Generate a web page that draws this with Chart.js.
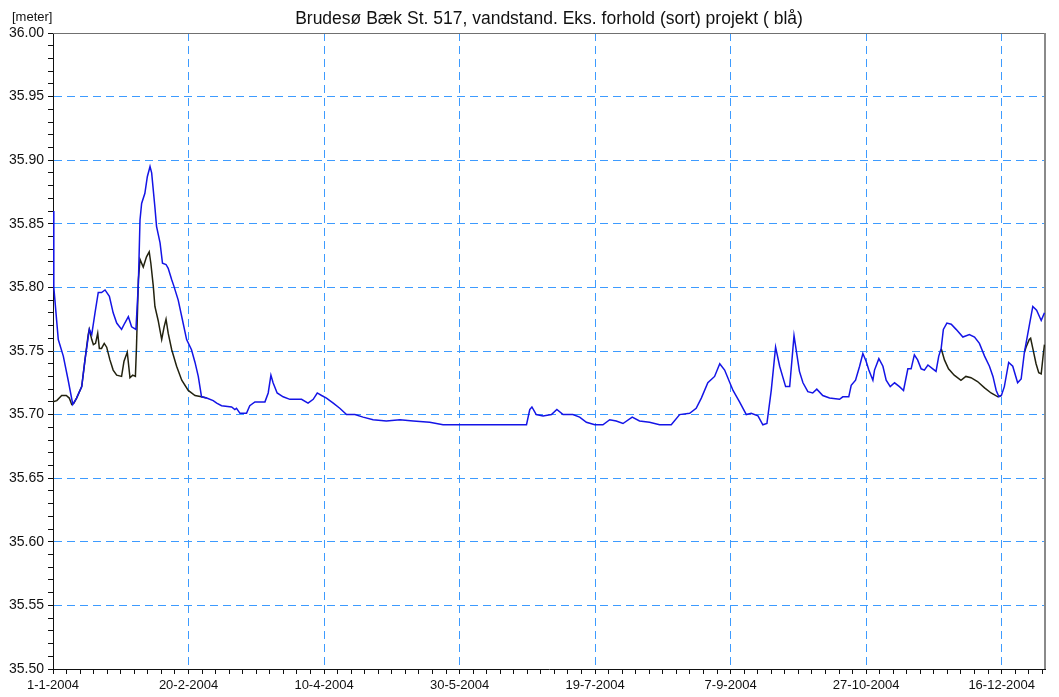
<!DOCTYPE html>
<html>
<head>
<meta charset="utf-8">
<script src="https://cdn.jsdelivr.net/npm/chart.js@4/dist/chart.umd.min.js"></script>
<style>
  body { margin: 0; background: #fff; }
  canvas { display: block; }
</style>
</head>
<body>
<canvas id="levelChart" width="1059" height="697"></canvas>
<script>
// --- data (day of year 2004, water level in meter) ---
const chartTitle = 'Brudesø Bæk St. 517, vandstand. Eks. forhold (sort) projekt ( blå)';
const unitLabel = '[meter]';

const tickDays = [0, 50, 100, 150, 200, 250, 300, 350];
const tickLabels = ['1-1-2004', '20-2-2004', '10-4-2004', '30-5-2004', '19-7-2004', '7-9-2004', '27-10-2004', '16-12-2004'];

// projekt (blå)
const projectDays = [
    0, 0.3, 1.95, 3.8, 5.6, 7.3, 8.7, 10.6, 11.8, 13.4, 14.3, 15.5, 16.7, 17.9, 19.2, 20.8, 22.2, 23.5, 25.3, 26.5,
    27.8, 29, 30.6, 31.5, 32.1, 32.7, 33.9, 34.8, 35.8, 36.4, 37.6, 38.2, 39.5, 40.4, 41.7, 42.5, 43.8, 44.6, 46.2, 48,
    49.3, 51.1, 52.4, 53.6, 54.8, 56.7, 59.1, 60.4, 62.2, 65.9, 67.1, 67.7, 69, 71.4, 72.6, 74.5, 78.2, 79.4, 80.4, 81.2,
    82.7, 84.9, 87.4, 91.7, 94.1, 96, 97.5, 99.1, 100.9, 103.4, 105.8, 108.3, 111.4, 114.4, 118.1, 123, 128, 132.9, 139, 143.9,
    174.7, 175.9, 176.7, 178.3, 180.8, 183.9, 185.9, 188.2, 191.8, 194.3, 196.8, 199.9, 202.9, 205.4, 207.8, 210.3, 213.7, 216.4, 220.1, 223.8,
    228.1, 231.2, 234.9, 237.3, 239.2, 241.6, 244.1, 246, 247.8, 250.9, 253.3, 255.8, 257.6, 260.1, 261.9, 263.4, 265, 266.6, 268.1, 270.3,
    271.8, 273.4, 275.4, 276.7, 278.5, 280.3, 281.8, 284, 286.5, 290.2, 291.4, 293.6, 294.5, 296.1, 297.6, 298.8, 300, 301, 302.5, 303.1,
    304.7, 306.2, 307.4, 308.9, 310.5, 312.3, 313.8, 315.4, 316.6, 317.8, 319, 320.3, 321.5, 322.8, 324.6, 325.8, 326.8, 327.7, 328.5, 329.8,
    331.4, 333.2, 335.7, 338.1, 340, 341.8, 343.7, 345.5, 346.8, 348, 349, 349.9, 351, 352.6, 354.1, 355.9, 357.2, 358.4, 360.2, 361.5,
    362.9, 364.6, 365.8
];
const projectLevels = [
    35.860, 35.800, 35.759, 35.746, 35.727, 35.708, 35.713, 35.722, 35.743, 35.767, 35.763, 35.780, 35.796, 35.796, 35.798, 35.793, 35.780, 35.772, 35.767, 35.772,
    35.777, 35.769, 35.767, 35.803, 35.853, 35.866, 35.874, 35.887, 35.895, 35.890, 35.863, 35.848, 35.835, 35.819, 35.818, 35.815, 35.806, 35.801, 35.790, 35.772,
    35.759, 35.751, 35.741, 35.730, 35.714, 35.713, 35.711, 35.709, 35.707, 35.706, 35.704, 35.705, 35.701, 35.701, 35.707, 35.710, 35.710, 35.717, 35.731, 35.725,
    35.717, 35.714, 35.712, 35.712, 35.709, 35.712, 35.717, 35.715, 35.713, 35.709, 35.705, 35.700, 35.700, 35.698, 35.696, 35.695, 35.696, 35.695, 35.694, 35.692,
    35.692, 35.704, 35.706, 35.700, 35.699, 35.700, 35.704, 35.700, 35.700, 35.698, 35.694, 35.692, 35.692, 35.696, 35.695, 35.693, 35.698, 35.695, 35.694, 35.692,
    35.692, 35.700, 35.701, 35.705, 35.713, 35.725, 35.730, 35.740, 35.735, 35.719, 35.710, 35.700, 35.701, 35.699, 35.692, 35.693, 35.719, 35.753, 35.738, 35.722,
    35.722, 35.762, 35.734, 35.725, 35.718, 35.717, 35.720, 35.715, 35.713, 35.712, 35.714, 35.714, 35.723, 35.727, 35.738, 35.748, 35.742, 35.735, 35.727, 35.735,
    35.744, 35.738, 35.727, 35.722, 35.725, 35.722, 35.719, 35.736, 35.736, 35.747, 35.743, 35.736, 35.735, 35.739, 35.736, 35.734, 35.746, 35.752, 35.767, 35.772,
    35.771, 35.767, 35.761, 35.763, 35.761, 35.756, 35.746, 35.738, 35.730, 35.719, 35.714, 35.715, 35.722, 35.741, 35.738, 35.725, 35.728, 35.749, 35.770, 35.785,
    35.782, 35.774, 35.780
];

// eksisterende forhold (sort) - only where it differs from projekt, null = gap
const existingDays = [
    0, 1.4, 3.2, 4.9, 6, 6.9, 7.7, 8.7, 10.6, 11.8, 13, 13.4, 14.3, 14.9, 15.7, 16.5, 17.1, 17.9, 18.9, 19.8,
    21, 22.2, 23.5, 25.3, 26.2, 27.4, 28.4, 29.4, 30.4, 30.8, 31.5, 32.1, 33.3, 34.5, 35.5, 36.1, 37, 37.6, 38.8, 40.1,
    41, 41.7, 42.5, 43.8, 45.6, 47.5, 49.9, 52.4, 54.8, 56.7,
    327,
    327.7, 328.9, 330.4, 332.5, 335, 336.8, 338.7, 341.1, 343.7, 346.1, 348.6, 349.9,
    355,
    358.4, 359, 360.2, 360.7, 361.5, 362.7, 363.7, 364.6, 365.4, 365.8
];
const existingLevels = [
    35.710, 35.711, 35.715, 35.715, 35.713, 35.708, 35.709, 35.713, 35.722, 35.743, 35.763, 35.767, 35.759, 35.755, 35.756, 35.764, 35.752, 35.752, 35.756, 35.753,
    35.743, 35.735, 35.731, 35.730, 35.742, 35.749, 35.729, 35.731, 35.730, 35.753, 35.806, 35.822, 35.816, 35.824, 35.828, 35.819, 35.801, 35.785, 35.774, 35.759,
    35.769, 35.775, 35.764, 35.751, 35.738, 35.727, 35.719, 35.715, 35.714, 35.713,
    null,
    35.752, 35.743, 35.736, 35.731, 35.727, 35.730, 35.729, 35.726, 35.721, 35.717, 35.714, 35.715,
    null,
    35.749, 35.753, 35.759, 35.760, 35.752, 35.740, 35.733, 35.732, 35.748, 35.755
];

const toPoints = (days, levels) => days.map((d, i) => ({ x: d, y: levels[i] }));

const FONT = '"Liberation Sans", Arial, sans-serif';
const GRID_BLUE = '#3d9bff';

// title, unit label and frame lines
const framePlugin = {
    id: 'frame',
    beforeDatasetsDraw(chart) {
        const { ctx, chartArea: a } = chart;
        ctx.save();
        ctx.lineWidth = 1;
        ctx.strokeStyle = '#707070';
        ctx.beginPath();
        ctx.moveTo(a.left, a.top + 0.5);
        ctx.lineTo(a.right, a.top + 0.5);
        ctx.stroke();
        ctx.lineWidth = 2;
        ctx.strokeStyle = '#8a8a8a';
        ctx.beginPath();
        ctx.moveTo(a.right, a.top);
        ctx.lineTo(a.right, a.bottom);
        ctx.stroke();
        ctx.restore();
    },
    afterDraw(chart) {
        const { ctx, chartArea: a } = chart;
        ctx.save();
        ctx.fillStyle = '#111';
        ctx.textBaseline = 'middle';
        ctx.font = '17.5px ' + FONT;
        ctx.textAlign = 'center';
        ctx.fillText(chartTitle, (a.left + a.right) / 2, 19);
        ctx.font = '13px ' + FONT;
        ctx.textAlign = 'left';
        ctx.fillText(unitLabel, 12, 17);
        ctx.restore();
    }
};

new Chart(document.getElementById('levelChart').getContext('2d'), {
    type: 'line',
    data: {
        datasets: [
            { label: 'projekt', data: toPoints(projectDays, projectLevels), borderColor: '#1414e6', borderWidth: 1.5, pointRadius: 0, tension: 0 },
            { label: 'eks. forhold', data: toPoints(existingDays, existingLevels), borderColor: '#22220f', borderWidth: 1.5, pointRadius: 0, tension: 0, spanGaps: false }
        ]
    },
    options: {
        responsive: false,
        animation: false,
        layout: { padding: { top: 33, right: 14, left: 0, bottom: 0 } },
        plugins: { legend: { display: false }, tooltip: { enabled: false }, title: { display: false } },
        scales: {
            x: {
                type: 'linear',
                min: 0,
                max: 366,
                afterFit: s => { s.height = 28; },
                ticks: {
                    stepSize: 5,
                    autoSkip: false,
                    maxRotation: 0,
                    includeBounds: false,
                    padding: 4,
                    color: '#111',
                    font: { family: FONT, size: 13 },
                    callback: v => {
                        const i = tickDays.indexOf(v);
                        return i >= 0 ? tickLabels[i] : '';
                    }
                },
                grid: {
                    color: c => (c.tick && c.tick.value > 0 && c.tick.value % 50 === 0) ? GRID_BLUE : 'rgba(0,0,0,0)',
                    tickColor: '#111',
                    tickLength: 5,
                    lineWidth: 1
                },
                border: { color: '#111', width: 1, dash: [8, 5] }
            },
            y: {
                min: 35.5,
                max: 36.0,
                afterFit: s => { s.width = 53; },
                ticks: {
                    stepSize: 0.01,
                    autoSkip: false,
                    padding: 4,
                    color: '#111',
                    font: { family: FONT, size: 14 },
                    callback: v => (Math.round(v * 100) % 5 === 0 ? v.toFixed(2) : '')
                },
                grid: {
                    color: c => (c.tick && Math.round(c.tick.value * 100) % 5 === 0 && c.tick.value > 35.505) ? GRID_BLUE : 'rgba(0,0,0,0)',
                    tickColor: '#111',
                    tickLength: 5,
                    lineWidth: 1
                },
                border: { color: '#111', width: 1, dash: [8, 5] }
            }
        }
    },
    plugins: [framePlugin]
});
</script>
</body>
</html>
